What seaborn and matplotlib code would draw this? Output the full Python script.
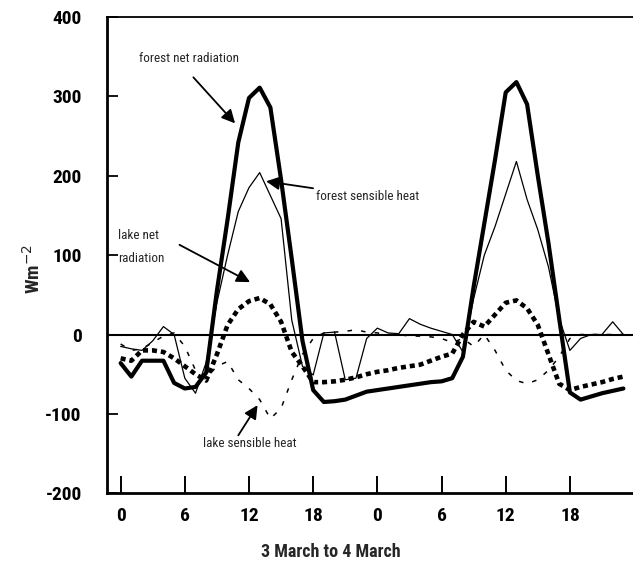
import matplotlib
matplotlib.use('Agg')
import matplotlib.pyplot as plt
import seaborn as sns

# hourly values, 3 March 00h to 4 March 23h
hours = list(range(48))
forest_net = [-36, -53, -33, -33, -33, -61, -68, -66, -48, 55, 145, 242, 298, 311, 286, 195,
              95, -8, -70, -85, -84, -82, -77, -72, -70, -68, -66, -64, -62, -60, -59, -55,
              -28, 60, 140, 220, 305, 318, 290, 200, 115, 20, -73, -82, -78, -74, -71, -68]
forest_sens = [-15, -18, -20, -8, 10, 0, -55, -74, -35, 40, 100, 155, 185, 204, 175, 146,
               18, -40, -51, 2, 3, -57, -55, -5, 8, 2, 1, 20, 13, 8, 4, 0,
               -22, 45, 100, 136, 177, 218, 170, 132, 85, 20, -20, -5, 0, 0, 16, 0]
lake_net = [-30, -33, -20, -20, -22, -30, -40, -50, -58, -25, 12, 32, 42, 46, 38, 16,
            -22, -40, -60, -60, -59, -57, -54, -50, -47, -45, -42, -40, -38, -33, -28, -24,
            0, 16, 10, 25, 40, 43, 33, 12, -25, -62, -70, -66, -63, -60, -56, -53]
lake_sens = [-12, -20, -18, -10, -2, 2, -15, -45, -55, -40, -34, -57, -68, -82, -106, -93,
             -57, -25, -5, 2, 3, 4, 6, 3, 2, 0, 0, -2, -2, -3, -5, -10,
             -5, -15, 0, -20, -45, -58, -62, -57, -45, -28, -5, 0, 0, 0, 0, 0]

tick_pos = [0, 6, 12, 18, 24, 30, 36, 42]
tick_lab = ['0', '6', '12', '18', '0', '6', '12', '18']
y_ticks = [-200, -100, 0, 100, 200, 300, 400]
y_lab = ['-200', '-100', '0', '100', '200', '300', '400']

sns.set_theme(style='white')
plt.rcParams['font.family'] = ['Liberation Sans', 'DejaVu Sans']
narrow = ['Roboto Condensed', 'Liberation Sans', 'DejaVu Sans']

fig = plt.figure(figsize=(6.33, 5.7), dpi=100)
ax = fig.add_axes([0.1686, 0.1346, 0.8314, 0.8356])

ax.axhline(0, color='black', lw=1.5, zorder=1)
sns.lineplot(x=hours, y=forest_net, ax=ax, color='black', linewidth=3.0)
sns.lineplot(x=hours, y=forest_sens, ax=ax, color='black', linewidth=0.9)
sns.lineplot(x=hours, y=lake_net, ax=ax, color='black', linewidth=3.3, linestyle=(0, (1.1, 0.85)))
sns.lineplot(x=hours, y=lake_sens, ax=ax, color='black', linewidth=1.1, linestyle=(0, (3, 6)))

ax.set_xlim(-1.3, 47.9)
ax.set_ylim(-200, 400)
ax.set_xticks(tick_pos)
ax.set_xticklabels(tick_lab, fontweight='bold', family=narrow)
ax.set_yticks(y_ticks)
ax.set_yticklabels(y_lab, fontweight='bold', family=narrow)
ax.tick_params(axis='x', direction='in', length=12, width=1.4, pad=10, labelsize=14, colors='black')
ax.tick_params(axis='y', direction='in', length=8, width=1.3, pad=18, labelsize=14, colors='black')
ax.tick_params(axis='both', which='both', bottom=True, left=True, top=False, right=False)

for side in ['left', 'bottom']:
    ax.spines[side].set_linewidth(2.0)
    ax.spines[side].set_color('black')
ax.spines['top'].set_linewidth(1.3)
ax.spines['top'].set_color('black')
ax.spines['right'].set_visible(False)

ax.set_ylabel(r'Wm$^{-2}$', fontsize=14, fontweight='bold', family=narrow)
ax.yaxis.set_label_coords(-0.12, 0.47)
ax.set_xlabel('3 March to 4 March', fontsize=13, fontweight='bold', family=narrow)
ax.xaxis.set_label_coords(0.426, -0.105)

arrow = dict(arrowstyle='-|>', color='black', lw=1.3, mutation_scale=20, shrinkA=0, shrinkB=0)
ax.text(6.4, 348, 'forest net radiation', fontsize=9.5, ha='center', va='center', family=narrow)
ax.annotate('', xy=(10.7, 266), xytext=(6.8, 324), arrowprops=arrow)
ax.annotate('forest sensible heat', xy=(13.6, 193), xytext=(18.3, 174), fontsize=9.5,
            ha='left', va='center', family=narrow, arrowprops=arrow)
ax.text(-0.25, 110, 'lake net\nradiation', fontsize=9.5, ha='left', va='center',
        linespacing=2.0, family=narrow)
ax.annotate('', xy=(12.1, 66), xytext=(5.5, 113), arrowprops=arrow)
ax.text(7.7, -137, 'lake sensible heat', fontsize=9.5, ha='left', va='center', family=narrow)
ax.annotate('', xy=(12.8, -89), xytext=(11.0, -127), arrowprops=arrow)

fig.savefig('out.png', dpi=100)
